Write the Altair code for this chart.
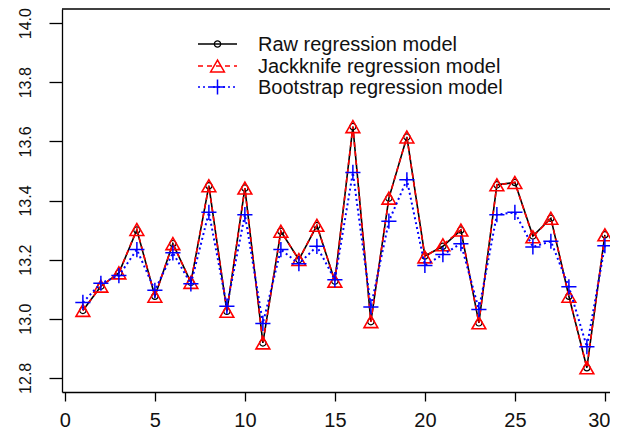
import altair as alt
import pandas as pd

idx = list(range(1, 31))
raw = [13.028, 13.110, 13.155, 13.300, 13.076, 13.254, 13.123, 13.450, 13.025, 13.442,
       12.918, 13.296, 13.200, 13.315, 13.127, 13.650, 12.990, 13.408, 13.615, 13.212,
       13.245, 13.300, 12.986, 13.453, 13.461, 13.280, 13.340, 13.076, 12.834, 13.284]
jack = [13.028, 13.110, 13.155, 13.302, 13.076, 13.254, 13.123, 13.450, 13.025, 13.442,
        12.918, 13.296, 13.200, 13.316, 13.127, 13.650, 12.990, 13.408, 13.615, 13.209,
        13.250, 13.300, 12.986, 13.453, 13.461, 13.277, 13.340, 13.076, 12.834, 13.284]
boot = [13.055, 13.120, 13.146, 13.234, 13.096, 13.223, 13.118, 13.360, 13.042, 13.352,
        12.984, 13.234, 13.186, 13.245, 13.132, 13.495, 13.040, 13.330, 13.470, 13.180,
        13.217, 13.254, 13.031, 13.352, 13.360, 13.243, 13.262, 13.108, 12.905, 13.247]

x_ticks = [0, 5, 10, 15, 20, 25, 30]
y_ticks = [12.8, 13.0, 13.2, 13.4, 13.6, 13.8, 14.0]
legend_labels = ["Raw regression model", "Jackknife regression model", "Bootstrap regression model"]

df = pd.DataFrame({"i": idx, "raw": raw, "jack": jack, "boot": boot})

W, H = 548, 383
PX_PER_UNIT = 18
FONT = "Liberation Sans"

xs = alt.Scale(domain=[-0.16, -0.16 + W / PX_PER_UNIT], nice=False, zero=False)
ys = alt.Scale(domain=[12.752, 14.048], nice=False, zero=False)

x_axis = alt.Axis(values=x_ticks, tickSize=9, labelPadding=9, labelFontSize=20, labelFont=FONT,
                  labelColor="#111", domainColor="black", tickColor="black", grid=False,
                  labelFlush=False, format="d", domainWidth=1.3, tickWidth=1.3, title="",
                  labelAlign={"condition": {"test": "datum.value >= 30", "value": "right"},
                              "value": "center"},
                  labelOffset={"condition": {"test": "datum.value >= 30", "value": 5},
                               "value": 0})
y_axis = alt.Axis(values=y_ticks, tickSize=13, labelPadding=16, labelFontSize=16, labelFont=FONT,
                  labelColor="#111", domainColor="black", tickColor="black", grid=False,
                  labelAngle=270, labelAlign="center", labelBaseline="bottom",
                  labelFlush=False, format=".1f", domainWidth=1.3, tickWidth=1.3, title="")

X = alt.X("i:Q", scale=xs, axis=x_axis, title="")


def Y(field):
    return alt.Y(f"{field}:Q", scale=ys, axis=y_axis, title="")


base = alt.Chart(df)
PLUS = "M-1,0H1M0,-1V1"

raw_line = base.mark_line(color="black", strokeWidth=1.6).encode(x=X, y=Y("raw"))
raw_pts = base.mark_point(shape="circle", color="black", size=40, strokeWidth=1.2,
                          filled=False, opacity=1).encode(x=X, y=Y("raw"))
jack_line = base.mark_line(color="red", strokeWidth=1.6, strokeDash=[5, 4]).encode(x=X, y=Y("jack"))
jack_pts = base.mark_point(shape="triangle-up", color="red", size=190, strokeWidth=1.6,
                           filled=False, opacity=1).encode(x=X, y=Y("jack"))
boot_line = base.mark_line(color="blue", strokeWidth=2, strokeDash=[2, 3]).encode(x=X, y=Y("boot"))
boot_pts = base.mark_point(shape=PLUS, color="blue", size=230, strokeWidth=1.5,
                           filled=False, opacity=1).encode(x=X, y=Y("boot"))

one = alt.Chart(pd.DataFrame({"k": [0]}))
top_frame = one.mark_rule(color="black", strokeWidth=1.3).encode(
    x=alt.value(0), x2=alt.value(W), y=alt.value(0))

# manual legend
leg_layers = []
rows_y = [35, 57, 78]
styles = [
    dict(color="black", dash=[1, 0], shape="circle", size=40, sw=1.2),
    dict(color="red", dash=[5, 4], shape="triangle-up", size=190, sw=1.5),
    dict(color="blue", dash=[2, 3], shape=PLUS, size=230, sw=1.5),
]
for lab, yy, st in zip(legend_labels, rows_y, styles):
    leg_layers.append(one.mark_rule(color=st["color"], strokeWidth=1.5, strokeDash=st["dash"]).encode(
        x=alt.value(136), x2=alt.value(175), y=alt.value(yy)))
    leg_layers.append(one.mark_point(shape=st["shape"], color=st["color"], size=st["size"],
                                     strokeWidth=st["sw"], filled=False, opacity=1).encode(
        x=alt.value(155.5), y=alt.value(yy)))
    leg_layers.append(one.mark_text(text=lab, font=FONT, fontSize=20, align="left", baseline="middle",
                                    color="#111").encode(x=alt.value(196), y=alt.value(yy + 1)))

chart = alt.layer(
    raw_line, raw_pts, jack_line, jack_pts, boot_line, boot_pts, top_frame, *leg_layers
).properties(
    width=W, height=H,
    autosize=alt.AutoSizeParams(type="none"),
    padding={"left": 54, "top": 1, "right": 0, "bottom": 41},
).configure_view(stroke=None)

chart.save("out.html", embed_options={"renderer": "svg", "actions": False})
